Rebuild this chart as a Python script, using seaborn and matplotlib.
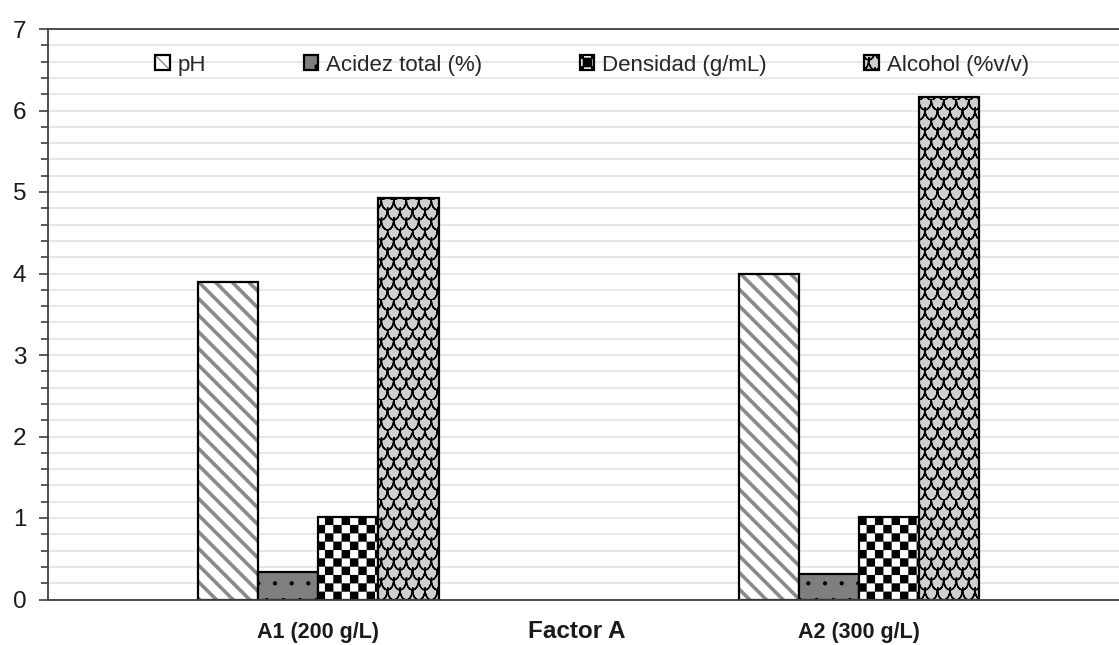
import numpy as np
import pandas as pd
import matplotlib
matplotlib.use("Agg")
import matplotlib.pyplot as plt
from matplotlib import hatch as mhatch
from matplotlib.path import Path
from matplotlib.ticker import MultipleLocator
import seaborn as sns

# ---- data -----------------------------------------------------------------
groups = ["A1 (200 g/L)", "A2 (300 g/L)"]
variables = ["pH", "Acidez total (%)", "Densidad (g/mL)", "Alcohol (%v/v)"]
ph = [3.89, 4.00]
acidez = [0.34, 0.31]
densidad = [1.01, 1.01]
alcohol = [4.93, 6.16]

# ---- extra fill patterns: 'c' = checkerboard, 's' = scales -----------------
class CheckerHatch(mhatch.HatchPatternBase):
    def __init__(self, hatch, density):
        self.n = hatch.count('c') * 2 * int(density)
        self.filled = True
        self.num_vertices = (self.n * self.n // 2) * 5

    def set_vertices_and_codes(self, vertices, codes):
        s = 1.0 / self.n
        k = 0
        for i in range(self.n):
            for j in range(self.n):
                if (i + j) % 2:
                    continue
                x0, y0 = i * s, j * s
                vertices[k:k + 5] = [(x0, y0), (x0 + s, y0), (x0 + s, y0 + s),
                                     (x0, y0 + s), (x0, y0)]
                codes[k:k + 5] = [Path.MOVETO, Path.LINETO, Path.LINETO,
                                  Path.LINETO, Path.CLOSEPOLY]
                k += 5


class ScaleHatch(mhatch.HatchPatternBase):
    def __init__(self, hatch, density):
        k = hatch.count('s')
        self.filled = False
        self.arcs = []
        if k:
            cols, rows = 8 * k, 10 * k
            w, h = 1.0 / cols, 1.0 / rows
            t = np.linspace(np.pi, 2 * np.pi, 9)
            for r in range(rows):
                shift = 0.5 * w if r % 2 else 0.0
                for c in range(-1, cols + 1):
                    cx = c * w + shift + 0.5 * w
                    cy = (r + 1) * h
                    xs = cx + 0.5 * w * np.cos(t)
                    ys = cy + 1.0 * h * np.sin(t)
                    pts = np.column_stack([xs, ys])
                    # trace forward and back so the stroke has no filled area
                    self.arcs.append(np.vstack([pts, pts[-2::-1]]))
        self.num_vertices = sum(len(a) for a in self.arcs)

    def set_vertices_and_codes(self, vertices, codes):
        k = 0
        for a in self.arcs:
            n = len(a)
            vertices[k:k + n] = a
            codes[k] = Path.MOVETO
            codes[k + 1:k + n] = Path.LINETO
            k += n


mhatch._hatch_types.extend([CheckerHatch, ScaleHatch])
_base_validate = mhatch._validate_hatch_pattern


def _validate_with_extras(hatch):
    if hatch is not None:
        hatch = hatch.replace('c', '').replace('s', '')
    return _base_validate(hatch)


mhatch._validate_hatch_pattern = _validate_with_extras

# ---- style ----------------------------------------------------------------
sns.set_theme(style="white")
plt.rcParams['font.family'] = ['Liberation Sans', 'DejaVu Sans']

fills = ["white", "#7f7f7f", "white", "#d0cece"]
hatches = ["\\\\", ".", "c", "s"]
hatch_colors = ["#8a8a8a", "black", "black", "black"]
hatch_widths = [2.6, 0.6, 0.1, 1.0]

df = pd.DataFrame({
    "grupo": np.repeat(groups, len(variables)),
    "variable": variables * len(groups),
    "valor": [v for g in zip(ph, acidez, densidad, alcohol) for v in g],
})

W, H = 1119, 645
fig = plt.figure(figsize=(W / 100, H / 100), dpi=100)
ax = fig.add_axes([48 / W, 1 - 599.5 / H, 1 - 48 / W, (599.5 - 29) / H])

sns.barplot(data=df, x="grupo", y="valor", hue="variable", hue_order=variables,
            order=groups, palette=fills, saturation=1, width=0.444,
            edgecolor="black", linewidth=1.6, errorbar=None, legend=False, ax=ax)

for cont, hp, hc, hw in zip(ax.containers, hatches, hatch_colors, hatch_widths):
    for p in cont.patches:
        p.set_hatch(hp)
        if hasattr(p, "set_hatchcolor"):
            p.set_hatchcolor(hc)
        else:
            p._hatch_color = matplotlib.colors.to_rgba(hc)
        if hasattr(p, "set_hatch_linewidth"):
            p.set_hatch_linewidth(hw)

ax.set_xlim(-0.5, 1.48)
ax.set_ylim(0, 7)
ax.yaxis.set_major_locator(MultipleLocator(1))
ax.yaxis.set_minor_locator(MultipleLocator(0.2))
ax.grid(which="both", axis="y", color="#e0e0e0", lw=1.1)
ax.set_axisbelow(True)

ax.tick_params(axis="y", which="major", left=True, length=6.5, width=1.2,
               color="#404040", pad=9, labelsize=17.5, labelcolor="#1a1a1a")
ax.tick_params(axis="y", which="minor", left=True, length=5, width=1.2,
               color="#404040")
ax.tick_params(axis="x", length=0, pad=16, labelsize=15.5, labelcolor="#1a1a1a")
for lbl in ax.get_xticklabels():
    lbl.set_fontweight("bold")

for side in ("left", "bottom", "top"):
    ax.spines[side].set_color("#404040")
    ax.spines[side].set_linewidth(1.3)
ax.spines["right"].set_visible(False)

ax.set_ylabel("")
ax.set_xlabel("Factor A", fontsize=17.5, fontweight="bold", color="#1a1a1a")
ax.xaxis.set_label_coords((577 - 48) / (W - 48), -(620 - 599.5) / (599.5 - 29))

ax.legend(ax.containers, variables, loc="center",
          bbox_to_anchor=(592 / W, 1 - 65 / H), bbox_transform=fig.transFigure,
          ncol=4, frameon=False, fontsize=16, handlelength=0.65,
          handleheight=0.65, handletextpad=0.35, columnspacing=4.4,
          borderpad=0)

fig.savefig("out.png", dpi=100, facecolor="white")
